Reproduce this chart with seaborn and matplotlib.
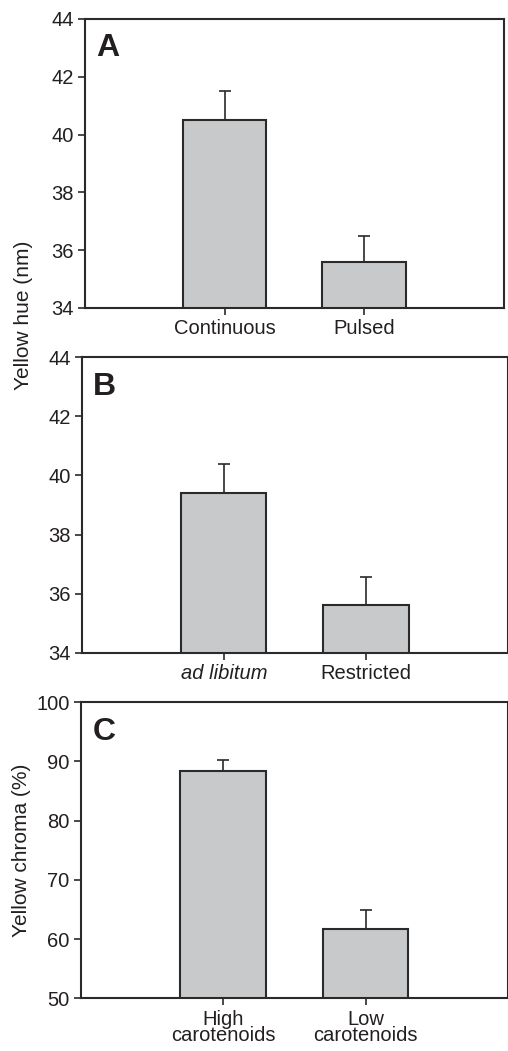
import matplotlib
matplotlib.use("Agg")
import matplotlib.pyplot as plt
import seaborn as sns
import pandas as pd

# Data
cats_a = ["Continuous", "Pulsed"]
vals_a = [40.5, 35.6]
err_a = [1.0, 0.9]

cats_b = ["ad libitum", "Restricted"]
vals_b = [39.4, 35.6]
err_b = [1.0, 0.95]

cats_c = ["High\ncarotenoids", "Low\ncarotenoids"]
vals_c = [88.4, 61.7]
err_c = [1.8, 3.3]

yticks_ab = [34, 36, 38, 40, 42, 44]
yticks_c = [50, 60, 70, 80, 90, 100]

sns.set_theme(style="white")
plt.rcParams['font.family'] = ['Liberation Sans', 'DejaVu Sans']

fig = plt.figure(figsize=(5.08, 10.51), dpi=100)
ax_a = fig.add_axes([0.167, 0.707, 0.825, 0.275])
ax_b = fig.add_axes([0.161, 0.379, 0.839, 0.281])
ax_c = fig.add_axes([0.159, 0.050, 0.841, 0.282])

bar_color = "#c8c9cb"
edge = "#2a2a2a"
txt = "#231f20"
fs = 14.5

def panel(ax, cats, vals, errs, yticks, letter):
    df = pd.DataFrame({"cat": cats, "val": vals})
    sns.barplot(data=df, x="cat", y="val", ax=ax, color=bar_color,
                edgecolor=edge, linewidth=1.5, width=0.6, saturation=1)
    ax.errorbar(range(len(cats)), vals, yerr=[[0]*len(errs), errs],
                fmt="none", ecolor=edge, elinewidth=1.2, capsize=4, capthick=1.2)
    ax.set_xlim(-1, 2)
    ax.set_ylim(yticks[0], yticks[-1])
    ax.set_yticks(yticks)
    ax.set_xlabel("")
    ax.set_ylabel("")
    for s in ax.spines.values():
        s.set_color(edge)
        s.set_linewidth(1.5)
    ax.tick_params(axis="both", direction="out", length=5, width=1.2,
                   colors=edge, labelsize=fs, labelcolor=txt,
                   left=True, bottom=True, pad=3)
    ax.text(0.027, 0.95, letter, transform=ax.transAxes, fontsize=23,
            fontweight="bold", va="top", ha="left", color=txt)

panel(ax_a, cats_a, vals_a, err_a, yticks_ab, "A")
panel(ax_b, cats_b, vals_b, err_b, yticks_ab, "B")
for t in ax_b.get_xticklabels():
    if t.get_text() == "ad libitum":
        t.set_fontstyle("italic")
panel(ax_c, cats_c, vals_c, err_c, yticks_c, "C")
for t in ax_c.get_xticklabels():
    t.set_linespacing(0.85)

fig.text(24/508, 1 - 315/1051, "Yellow hue (nm)", rotation=90, ha="center",
         va="center", fontsize=15, color=txt)
fig.text(22/508, 1 - 850/1051, "Yellow chroma (%)", rotation=90, ha="center",
         va="center", fontsize=15, color=txt)

fig.savefig("out.png", dpi=100)
